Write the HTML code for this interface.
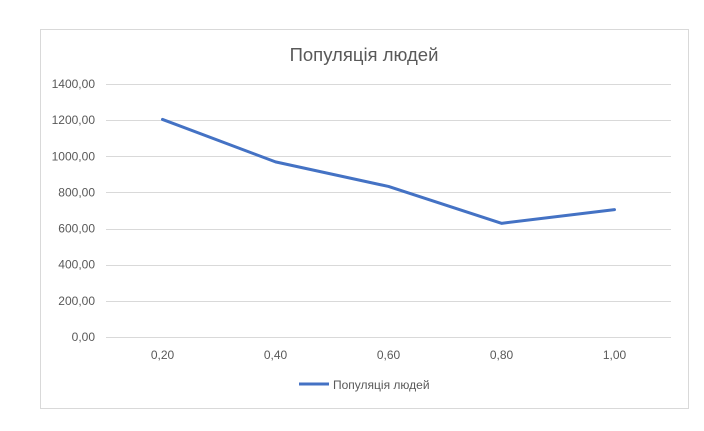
<!DOCTYPE html>
<html><head><meta charset="utf-8"><style>
body{margin:0;width:704px;height:426px;background:#fff;font-family:"Liberation Sans",sans-serif}
</style></head><body>
<svg id="chart" width="704" height="426">
<rect x="40.5" y="29.5" width="648" height="379" fill="#fff" stroke="#d9d9d9"/>
<text x="364" y="61" text-anchor="middle" font-size="18.5" fill="#595959">Популяція людей</text>
<g id="grid"></g><g id="ylab"></g><g id="xlab"></g>
<polyline id="line" fill="none" stroke="#4472c4" stroke-width="3" stroke-linejoin="round" stroke-linecap="round"/>
<line x1="299" y1="384" x2="329" y2="384" stroke="#4472c4" stroke-width="3"/>
<text x="333" y="389" font-size="12" fill="#595959">Популяція людей</text>
</svg>
<script>
const categories=["0,20","0,40","0,60","0,80","1,00"];
const values=[1204,969,833,629,705];
const yTicks=[0,200,400,600,800,1000,1200,1400];
const yTickLabels=["0,00","200,00","400,00","600,00","800,00","1000,00","1200,00","1400,00"];
const ns="http://www.w3.org/2000/svg";
const x0=106,x1=671,y0=337,y1=84,ymax=1400;
const band=(x1-x0)/categories.length;
const xs=i=>x0+band*(i+0.5);
const ys=v=>y0-(v/ymax)*(y0-y1);
const g=document.getElementById('grid'),yl=document.getElementById('ylab'),xl=document.getElementById('xlab');
yTicks.forEach((t,i)=>{
 const l=document.createElementNS(ns,'line');
 
 
 l.setAttribute('x1',x0);l.setAttribute('x2',x1);
 l.setAttribute('y1',Math.round(ys(t))+0.5);l.setAttribute('y2',Math.round(ys(t))+0.5);
 l.setAttribute('stroke','#d9d9d9');g.appendChild(l);
 const s=document.createElementNS(ns,'text');
 
 
 s.setAttribute('x',95);s.setAttribute('y',ys(t)+4);s.setAttribute('text-anchor','end');
 s.setAttribute('font-size','12');s.setAttribute('fill','#595959');s.textContent=yTickLabels[i];yl.appendChild(s);
});
categories.forEach((c,i)=>{
 const s=document.createElementNS(ns,'text');
 
 
 s.setAttribute('x',xs(i));s.setAttribute('y',359);s.setAttribute('text-anchor','middle');
 s.setAttribute('font-size','12');s.setAttribute('fill','#595959');s.textContent=c;xl.appendChild(s);
});
document.getElementById('line').setAttribute('points',values.map((v,i)=>xs(i)+','+ys(v)).join(' '));
</script>
</body></html>
